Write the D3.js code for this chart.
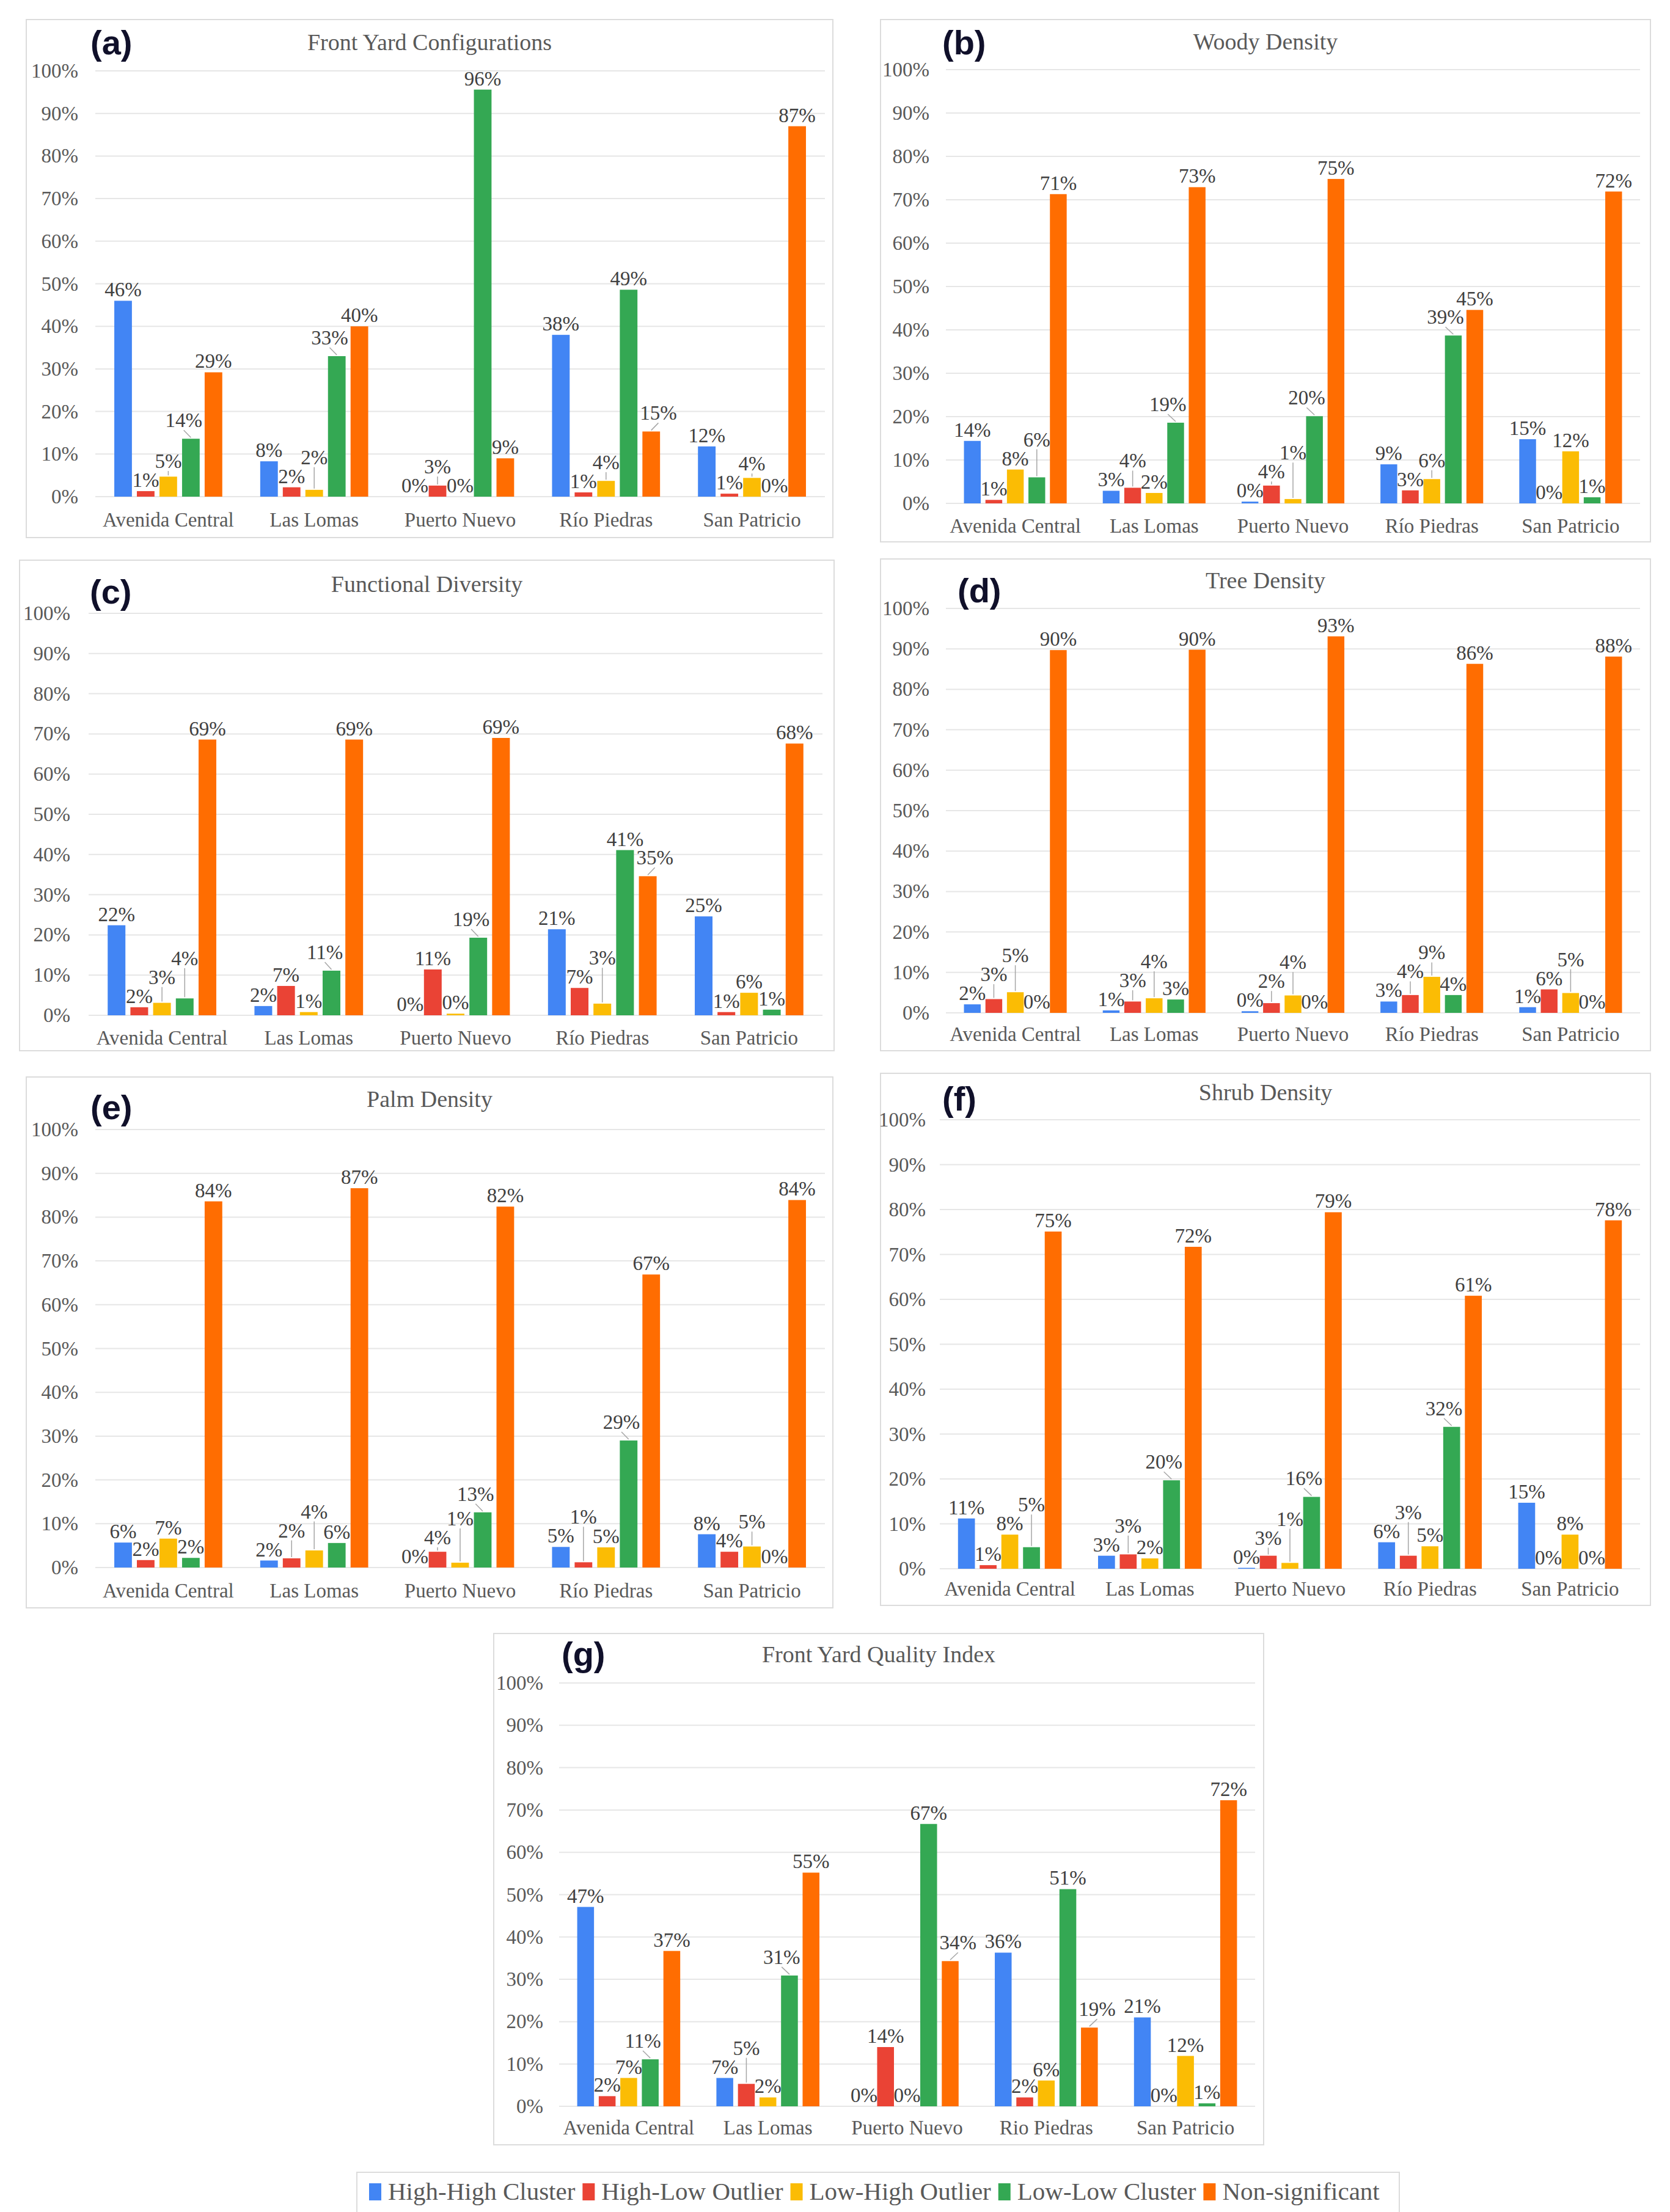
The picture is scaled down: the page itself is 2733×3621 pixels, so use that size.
<!DOCTYPE html>
<html><head><meta charset="utf-8">
<script src="https://cdn.jsdelivr.net/npm/d3@7"></script>
<style>body{margin:0;background:#fff} svg{display:block}</style>
</head><body>
<svg id="chart" width="2733" height="3621" viewBox="0 0 2733 3621"></svg>
<script>
// ---------- DATA ----------
const categories = ["Avenida Central","Las Lomas","Puerto Nuevo","Río Piedras","San Patricio"];
const categoriesG = ["Avenida Central","Las Lomas","Puerto Nuevo","Rio Piedras","San Patricio"];
const seriesNames = ["High-High Cluster","High-Low Outlier","Low-High Outlier","Low-Low Cluster","Non-significant"];
const seriesColors = ["#4285F4","#EA4335","#FBBC04","#34A853","#FF6D01"];
const panelLetters = ["(a)","(b)","(c)","(d)","(e)","(f)","(g)"];
const panelTitles = ["Front Yard Configurations","Woody Density","Functional Diversity","Tree Density","Palm Density","Shrub Density","Front Yard Quality Index"];
const yTicks = [0,10,20,30,40,50,60,70,80,90,100];

// percent values; rows = series (HH, HL, LH, LL, NS), columns = categories
const configurationsValues = [
  [46, 8.3, 0, 38, 11.8],
  [1.3, 2.2, 2.6, 1.0, 0.7],
  [4.7, 1.6, 0, 3.7, 4.4],
  [13.6, 33, 95.6, 48.6, 0],
  [29.2, 40, 9, 15.3, 87]
];
const woodyValues = [
  [14.4, 2.9, 0.4, 9.0, 14.8],
  [0.8, 3.6, 4.1, 3.0, 0],
  [7.8, 2.4, 1.0, 5.6, 12.0],
  [6.0, 18.6, 20.1, 38.7, 1.4],
  [71.3, 72.9, 74.8, 44.6, 71.9]
];
const functionalValues = [
  [22.4, 2.3, 0, 21.4, 24.6],
  [2.0, 7.3, 11.4, 6.8, 0.8],
  [3.1, 0.8, 0.4, 2.9, 5.6],
  [4.2, 11.1, 19.3, 41.1, 1.4],
  [68.6, 68.6, 69.0, 34.6, 67.6]
];
const treeValues = [
  [2.1, 0.6, 0.4, 2.8, 1.4],
  [3.4, 2.8, 2.4, 4.4, 5.8],
  [5.1, 3.6, 4.3, 8.9, 4.9],
  [0, 3.3, 0, 4.4, 0],
  [89.7, 89.8, 93.1, 86.3, 88.1]
];
const palmValues = [
  [5.7, 1.6, 0, 4.7, 7.6],
  [1.7, 2.1, 3.6, 1.2, 3.6],
  [6.6, 3.9, 1.1, 4.6, 4.8],
  [2.2, 5.6, 12.6, 29.0, 0],
  [83.6, 86.6, 82.4, 66.9, 83.9]
];
const shrubValues = [
  [11.2, 2.9, 0.2, 5.9, 14.7],
  [0.8, 3.2, 2.9, 2.9, 0],
  [7.6, 2.3, 1.3, 5.0, 7.6],
  [4.8, 19.7, 16.0, 31.6, 0],
  [75.1, 71.7, 79.4, 60.8, 77.6]
];
const qualityValues = [
  [47.1, 6.7, 0, 36.3, 21.0],
  [2.4, 5.3, 14.0, 2.1, 0],
  [6.7, 2.1, 0, 6.1, 11.9],
  [11.1, 30.9, 66.7, 51.3, 0.7],
  [36.7, 55.2, 34.3, 18.6, 72.3]
];

const panelValues = [configurationsValues, woodyValues, functionalValues, treeValues, palmValues, shrubValues, qualityValues];
const panelCategories = [categories, categories, categories, categories, categories, categories, categoriesG];

// ---------- LAYOUT ----------
const layouts = [
  {frame:{x:43,y:32,w:1320,h:848}, px:[156,1350], y100:116, y0:813, titleY:82, letterX:148, letterY:89, tickX:128, catY:862},
  {frame:{x:1441,y:32,w:1260,h:855}, px:[1548,2684], y100:114, y0:824, titleY:81, letterX:1542, letterY:89, tickX:1521, catY:872},
  {frame:{x:32,y:917,w:1333,h:803}, px:[145,1346], y100:1004, y0:1662, titleY:969, letterX:147, letterY:988, tickX:115, catY:1710},
  {frame:{x:1441,y:915,w:1260,h:805}, px:[1548,2684], y100:996, y0:1658, titleY:963, letterX:1567, letterY:986, tickX:1521, catY:1704},
  {frame:{x:43,y:1763,w:1320,h:869}, px:[156,1350], y100:1849, y0:2566, titleY:1812, letterX:148, letterY:1832, tickX:128, catY:2615},
  {frame:{x:1441,y:1757,w:1260,h:871}, px:[1538,2684], y100:1833, y0:2568, titleY:1801, letterX:1542, letterY:1818, tickX:1515, catY:2612},
  {frame:{x:808,y:2674,w:1260,h:837}, px:[915,2054], y100:2755, y0:3448, titleY:2721, letterX:919, letterY:2727, tickX:889, catY:3494}
];

const serif = "'Liberation Serif','Times New Roman',serif";
const sans = "'Liberation Sans',Arial,sans-serif";
const FS = 33;

const svg = d3.select("#chart");
svg.append("rect").attr("width",2733).attr("height",3621).attr("fill","#fff");
const measurer = svg.append("text").attr("font-family", serif).attr("font-size", FS).attr("visibility","hidden");
function textWidth(s){ measurer.text(s); return measurer.node().getComputedTextLength(); }

panelValues.forEach((vals, i) => {
  const L = layouts[i];
  const cats = panelCategories[i];
  const g = svg.append("g");
  g.append("rect").attr("x",L.frame.x).attr("y",L.frame.y).attr("width",L.frame.w).attr("height",L.frame.h)
    .attr("fill","#fff").attr("stroke","#dcdcdc").attr("stroke-width",2);

  const y = d3.scaleLinear().domain([0,100]).range([L.y0, L.y100]);
  const x0 = d3.scaleBand().domain(cats).range(L.px);
  const bw = x0.bandwidth(), gw = bw * 0.74;
  const x1 = d3.scaleBand().domain(seriesNames).range([(bw-gw)/2, (bw+gw)/2]).paddingInner(0.22);

  // gridlines
  g.append("g").selectAll("line").data(yTicks).join("line")
    .attr("x1",L.px[0]).attr("x2",L.px[1]).attr("y1",d=>y(d)).attr("y2",d=>y(d))
    .attr("stroke","#e6e6e6").attr("stroke-width",2);

  // y axis
  const ya = g.append("g").attr("transform",`translate(${L.tickX},0)`)
    .call(d3.axisLeft(y).tickValues(yTicks).tickSize(0).tickPadding(0).tickFormat(d => d + "%"));
  ya.select(".domain").remove();
  ya.selectAll("text").attr("font-family",serif).attr("font-size",FS).attr("fill","#595959");

  // x axis
  const xa = g.append("g").attr("transform",`translate(0,${L.catY})`)
    .call(d3.axisBottom(x0).tickSize(0).tickPadding(0));
  xa.select(".domain").remove();
  xa.selectAll("text").attr("y",0).attr("dy",0).attr("font-family",serif).attr("font-size",FS).attr("fill","#595959");

  // title + letter
  g.append("text").attr("x",L.frame.x + L.frame.w/2).attr("y",L.titleY).attr("text-anchor","middle")
    .attr("font-family",serif).attr("font-size",38).attr("fill","#595959").text(panelTitles[i]);
  g.append("text").attr("x",L.letterX).attr("y",L.letterY).attr("font-family",sans).attr("font-weight","bold")
    .attr("font-size",56).attr("fill","#10102a").text(panelLetters[i]);

  // bars
  seriesNames.forEach((s, si) => {
    g.append("g").attr("fill", seriesColors[si]).selectAll("rect")
      .data(cats.map((c, ci) => ({c, v: vals[si][ci]}))).join("rect")
      .attr("x", d => x0(d.c) + x1(s)).attr("y", d => y(d.v))
      .attr("width", x1.bandwidth()).attr("height", d => y(0) - y(d.v));
  });

  // data labels with simple collision avoidance (raise + leader line)
  const lblG = g.append("g");
  cats.forEach((c, ci) => {
    const bars = seriesNames.map((s, si) => ({si, v: vals[si][ci], x: x0(c) + x1(s), w: x1.bandwidth(), top: y(vals[si][ci])}));
    const placed = [];
    bars.forEach(b => {
      const txt = Math.round(b.v) + "%";
      const w = textWidth(txt);
      let cx = b.x + b.w/2, base = b.top - 7, moved = false;
      const box = () => ({l: cx - w/2, r: cx + w/2, t: base - 25, b: base + 2});
      for (let k = 0; k < 20; k++) {
        let changed = false;
        for (const o of bars) {
          if (o === b) continue;
          const bx = box();
          const hov = Math.min(bx.r, o.x + o.w) - Math.max(bx.l, o.x);
          if (hov > 4 && bx.b > o.top) {
            if (o.x > b.x) cx -= hov + 4; else cx += hov + 4;
            base -= 12; moved = true; changed = true;
          }
        }
        const bx = box();
        for (const p of placed) {
          const hov = Math.min(bx.r, p.r) - Math.max(bx.l, p.l);
          const vov = Math.min(bx.b, p.b) - Math.max(bx.t, p.t);
          if (hov > -2 && vov > 0) { base = p.t - 6; moved = true; changed = true; break; }
        }
        if (!changed) break;
      }
      placed.push(box());
      if (moved) {
        lblG.append("line").attr("x1", b.x + b.w/2).attr("y1", b.top - 2).attr("x2", cx).attr("y2", base + 5)
          .attr("stroke","#a6a6a6").attr("stroke-width",1.5);
      }
      lblG.append("text").attr("x", cx).attr("y", base).attr("text-anchor","middle")
        .attr("font-family",serif).attr("font-size",FS).attr("fill","#404040").text(txt);
    });
  });
});

// ---------- LEGEND ----------
const lg = svg.append("g");
lg.append("rect").attr("x",584).attr("y",3556).attr("width",1706).attr("height",90)
  .attr("fill","#fff").attr("stroke","#dcdcdc").attr("stroke-width",2);
let lx = 604;
seriesNames.forEach((s, i) => {
  lg.append("rect").attr("x",lx).attr("y",3574).attr("width",20).attr("height",28).attr("fill",seriesColors[i]);
  const t = lg.append("text").attr("x",lx + 31).attr("y",3601).attr("font-family",serif)
    .attr("font-size",41).attr("fill","#595959").text(s);
  lx += 31 + t.node().getComputedTextLength() + 12;
});
</script>
</body></html>
